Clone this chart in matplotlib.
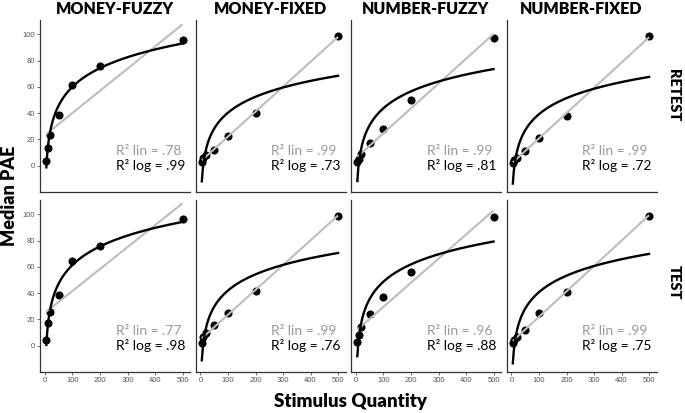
import numpy as np
import matplotlib
matplotlib.use("Agg")
import matplotlib.pyplot as plt

# ---------------- data ----------------
quantities = [5, 10, 20, 50, 100, 200, 500]
conditions = ["MONEY-FUZZY", "MONEY-FIXED", "NUMBER-FUZZY", "NUMBER-FIXED"]
sessions = ["RETEST", "TEST"]

retest_money_fuzzy = [3.6, 13.7, 23.7, 38.5, 61.6, 75.6, 95.9]
retest_money_fixed = [3, 6, 8, 12, 23, 40, 98.5]
retest_number_fuzzy = [2.5, 5, 9, 17, 28, 50, 97.2]
retest_number_fixed = [2, 4, 6, 11.5, 21.5, 38, 98.5]

test_money_fuzzy = [4, 17, 25.5, 39, 64.8, 75.9, 96.9]
test_money_fixed = [2, 7, 10, 15.5, 25, 42, 99]
test_number_fuzzy = [3, 8.5, 14.5, 24, 37.4, 55.9, 98.2]
test_number_fixed = [2, 4, 7, 12, 25, 41, 99]

r2_lin_retest = [".78", ".99", ".99", ".99"]
r2_log_retest = [".99", ".73", ".81", ".72"]
r2_lin_test = [".77", ".99", ".96", ".99"]
r2_log_test = [".98", ".76", ".88", ".75"]

x_ticks = [0, 100, 200, 300, 400, 500]
y_ticks = [0, 20, 40, 60, 80, 100]

series = {
    "RETEST": [retest_money_fuzzy, retest_money_fixed, retest_number_fuzzy, retest_number_fixed],
    "TEST": [test_money_fuzzy, test_money_fixed, test_number_fuzzy, test_number_fixed],
}
r2_lin = {"RETEST": r2_lin_retest, "TEST": r2_lin_test}
r2_log = {"RETEST": r2_log_retest, "TEST": r2_log_test}

# ---------------- figure ----------------
W, H = 685, 413
fig = plt.figure(figsize=(W / 100, H / 100), dpi=100)

FONT = ["Lato", "DejaVu Sans"]
TICKFONT = ["Liberation Sans", "DejaVu Sans"]

col_left = [40, 195.5, 351, 506.5]
pw = 150
row_top = [20, 200]
ph = 172
row_label_y = [95, 282]

x = np.array(quantities, dtype=float)
xs = np.linspace(x.min(), x.max(), 300)

for r, sess in enumerate(sessions):
    for c, cond in enumerate(conditions):
        ax = fig.add_axes([col_left[c] / W, (H - row_top[r] - ph) / H, pw / W, ph / H])
        y = np.array(series[sess][c], dtype=float)
        ax.scatter(x, y, s=34, color="black", zorder=2, linewidths=0)
        # linear fit
        m, b = np.polyfit(x, y, 1)
        ax.plot(xs, m * xs + b, color="#bdbdbd", lw=1.5, zorder=3, solid_capstyle="butt")
        # log fit
        bl, al = np.polyfit(np.log(x), y, 1)
        ax.plot(xs, al + bl * np.log(xs), color="black", lw=1.7, zorder=4)

        ax.text(258, 11.5, "R² lin = " + r2_lin[sess][c], color="#999999",
                fontsize=10, family=FONT, va="center", ha="left")
        ax.text(258, 0, "R² log = " + r2_log[sess][c], color="black",
                fontsize=10, family=FONT, va="center", ha="left")

        ax.set_xlim(-18, 527)
        ax.set_ylim(-20, 111)
        ax.set_xticks(x_ticks)
        ax.set_yticks(y_ticks)
        for s in ["top", "right"]:
            ax.spines[s].set_visible(False)
        for s in ["left", "bottom"]:
            ax.spines[s].set_color("#333333")
            ax.spines[s].set_linewidth(0.9)
        ax.tick_params(axis="both", length=2, width=0.6, color="#555555",
                       labelsize=5.5, labelcolor="#555555", pad=1.5)
        for lab in ax.get_xticklabels() + ax.get_yticklabels():
            lab.set_family(TICKFONT)
        if c != 0:
            ax.tick_params(axis="y", left=False, labelleft=False)
        if r != 1:
            ax.tick_params(axis="x", bottom=False, labelbottom=False)
        if r == 0:
            ax.set_title(cond, fontsize=11.5, fontweight="heavy", family=FONT, pad=4)

for r, sess in enumerate(sessions):
    fig.text(674 / W, 1 - row_label_y[r] / H, sess, rotation=-90,
             fontsize=10.5, fontweight="heavy", family=FONT,
             ha="center", va="center")

fig.text(10 / W, 1 - 196 / H, "Median PAE", rotation=90, fontsize=13,
         fontweight="heavy", family=FONT, ha="center", va="center")
fig.text(351 / W, 1 - 401 / H, "Stimulus Quantity", fontsize=13.5,
         fontweight="heavy", family=FONT, ha="center", va="center")

fig.savefig("out.png", dpi=100)
